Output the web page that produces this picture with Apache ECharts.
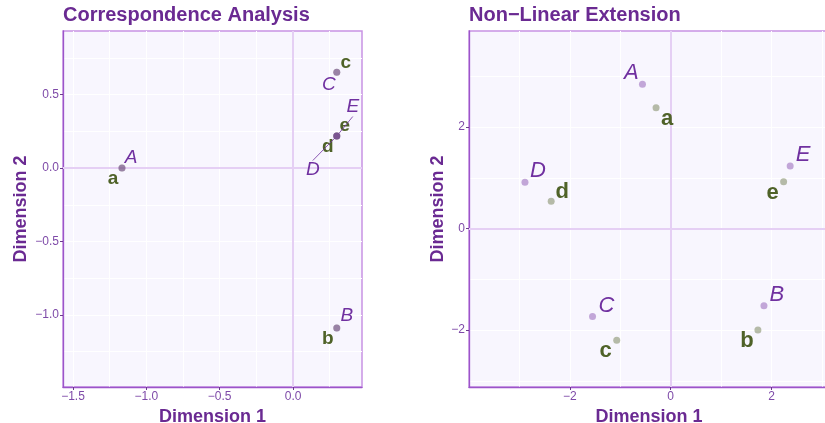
<!DOCTYPE html>
<html>
<head>
<meta charset="utf-8">
<script src="https://cdn.jsdelivr.net/npm/echarts@6/dist/echarts.min.js"></script>
<style>
  html, body { margin: 0; padding: 0; background: #ffffff; }
  #chart { width: 825px; height: 423px; }
</style>
</head>
<body>
<div id="chart"></div>
<script>
// Correspondence Analysis (left panel)
const caRows = ['A', 'B', 'C', 'D', 'E'];
const caRowX = [-1.166, 0.298, 0.298, 0.298, 0.298];
const caRowY = [0.0, -1.089, 0.652, 0.218, 0.218];
const caCols = ['a', 'b', 'c', 'd', 'e'];
const caColX = [-1.166, 0.298, 0.298, 0.298, 0.298];
const caColY = [0.0, -1.089, 0.652, 0.218, 0.218];
const caTicksX = [-1.5, -1.0, -0.5, 0.0];
const caTicksY = [-1.0, -0.5, 0.0, 0.5];

// Non-Linear Extension (right panel)
const nlRows = ['A', 'B', 'C', 'D', 'E'];
const nlRowX = [-0.56, 1.85, -1.55, -2.89, 2.37];
const nlRowY = [2.84, -1.52, -1.73, 0.91, 1.23];
const nlCols = ['a', 'b', 'c', 'd', 'e'];
const nlColX = [-0.29, 1.73, -1.07, -2.37, 2.24];
const nlColY = [2.38, -2.00, -2.20, 0.54, 0.92];
const nlTicks = [-2, 0, 2];

// label nudges (px), roughly where ggrepel put them
const caNudge = {
    A: [9, -10], B: [10, -12], C: [-8, 12], D: [-24, 34], E: [16, -29],
    a: [-9, 11], b: [-9, 11], c: [9, -10], d: [-9, 11], e: [8, -10]
};
const nlNudge = {
    A: [-11, -11], B: [13, -11], C: [14, -11], D: [13, -11], E: [13, -11],
    a: [11, 11], b: [-11, 11], c: [-11, 11], d: [11, -9], e: [-11, 11]
};
const repelled = ['D', 'E'];

const PURPLE = '#7030a0';
const GREEN = '#4f6228';
const TITLE = '#6a2a92';
const FONT = '"Liberation Sans", Arial, sans-serif';

const chart = echarts.init(document.getElementById('chart'), null, { renderer: 'canvas' });

function minus(s) {
    return s.replace('-', '\u2212');
}

function gridAxis(gridIndex, min, max, step, pos) {
    return {
        type: 'value', gridIndex, min, max, position: pos,
        minInterval: step, maxInterval: step,
        axisLine: { show: false, onZero: false },
        axisTick: { show: false },
        axisLabel: { show: false },
        splitLine: {
            show: true, showMinLine: false, showMaxLine: false,
            lineStyle: { color: '#ffffff', width: 1 }
        }
    };
}

function labelAxis(gridIndex, min, max, step, pos, ticks, digits, name, nameGap) {
    return {
        type: 'value', gridIndex, min, max, position: pos,
        minInterval: step, maxInterval: step,
        name, nameLocation: 'middle', nameGap,
        nameTextStyle: { color: TITLE, fontSize: 18, fontWeight: 'bold', fontFamily: FONT },
        axisLine: { show: true, onZero: false, lineStyle: { color: '#9b55c9', width: 1.3 } },
        axisTick: { show: true, length: 3, lineStyle: { color: '#6b3a8c', width: 1 } },
        axisLabel: {
            show: true, showMinLabel: false, showMaxLabel: false,
            margin: 4, fontSize: 12, color: '#7e4aa8', fontFamily: FONT,
            formatter: (v) => ticks.some(t => Math.abs(t - v) < 1e-9) ? minus(v.toFixed(digits)) : ''
        },
        splitLine: { show: false }
    };
}

function points(names, xs, ys, withLines) {
    return names.map((n, i) => {
        const item = { name: n, value: [xs[i], ys[i]] };
        if (withLines && repelled.includes(n)) {
            item.labelLine = { show: true, length2: 0, smooth: false, lineStyle: { color: PURPLE, width: 0.8 } };
        }
        return item;
    });
}

// labels are moved by labelLayout so the guide lines follow them
function nudgeLayout(names, nudge) {
    return (params) => {
        const d = nudge[names[params.dataIndex]];
        return { dx: d[0], dy: d[1] };
    };
}

function pointSeries(xi, yi, names, xs, ys, nudge, size, isRow, withLines) {
    const s = {
        type: 'scatter', xAxisIndex: xi, yAxisIndex: yi, z: isRow ? 3 : 2,
        symbolSize: 7,
        itemStyle: { color: isRow ? 'rgba(112,48,160,0.5)' : 'rgba(79,98,40,0.5)' },
        label: {
            show: true, position: ['50%', '50%'], align: 'center', verticalAlign: 'middle',
            formatter: '{b}', opacity: 1,
            color: isRow ? PURPLE : GREEN, fontSize: size,
            fontStyle: isRow ? 'italic' : 'normal',
            fontWeight: isRow ? 'normal' : 'bold',
            fontFamily: FONT
        },
        labelLine: { show: false },
        labelLayout: nudgeLayout(names, nudge),
        data: points(names, xs, ys, withLines)
    };
    if (!isRow) {
        s.markLine = {
            z: 1, silent: true, symbol: 'none', animation: false,
            label: { show: false },
            lineStyle: { color: '#e5cff4', width: 2, type: 'solid' },
            data: [{ xAxis: 0 }, { yAxis: 0 }]
        };
    }
    return s;
}

const option = {
    animation: false,
    backgroundColor: '#ffffff',
    title: [
        {
            text: 'Correspondence Analysis', left: 63, top: 5, padding: 0,
            textStyle: { color: TITLE, fontSize: 20, fontWeight: 'bold', fontFamily: FONT }
        },
        {
            text: 'Non\u2212Linear Extension', left: 469, top: 5, padding: 0,
            textStyle: { color: TITLE, fontSize: 20, fontWeight: 'bold', fontFamily: FONT }
        }
    ],
    grid: [
        {
            left: 63, top: 31, width: 299, height: 356, show: true, outerBoundsMode: 'none',
            backgroundColor: '#f8f6fe', borderColor: '#c893e3', borderWidth: 1.5
        },
        {
            left: 469, top: 31, width: 360, height: 356, show: true, outerBoundsMode: 'none',
            backgroundColor: '#f8f6fe', borderColor: '#c893e3', borderWidth: 1.5
        }
    ],
    xAxis: [
        gridAxis(0, -1.568, 0.47, 0.25, 'bottom'),
        labelAxis(0, -1.568, 0.47, 0.5, 'bottom', caTicksX, 1, 'Dimension 1', 15),
        gridAxis(1, -4.0, 3.14, 1, 'bottom'),
        labelAxis(1, -4.0, 3.14, 2, 'bottom', nlTicks, 0, 'Dimension 1', 15)
    ],
    yAxis: [
        gridAxis(0, -1.49, 0.933, 0.25, 'left'),
        labelAxis(0, -1.49, 0.933, 0.5, 'left', caTicksY, 1, 'Dimension 2', 33),
        gridAxis(1, -3.12, 3.89, 1, 'left'),
        labelAxis(1, -3.12, 3.89, 2, 'left', nlTicks, 0, 'Dimension 2', 22)
    ],
    series: [
        pointSeries(1, 1, caCols, caColX, caColY, caNudge, 19, false, false),
        pointSeries(1, 1, caRows, caRowX, caRowY, caNudge, 19, true, true),
        pointSeries(3, 3, nlCols, nlColX, nlColY, nlNudge, 22, false, false),
        pointSeries(3, 3, nlRows, nlRowX, nlRowY, nlNudge, 22, true, false)
    ]
};

chart.setOption(option);
</script>
</body>
</html>
